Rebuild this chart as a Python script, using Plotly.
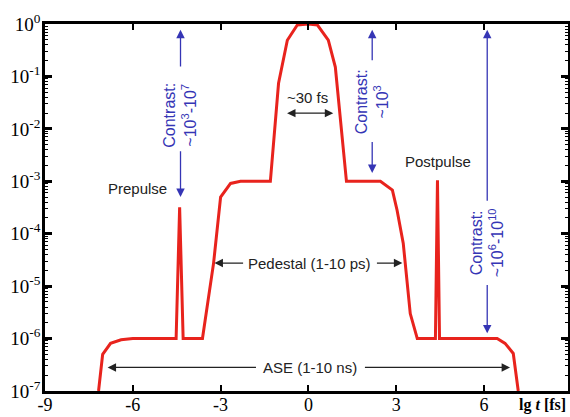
import plotly.graph_objects as go

# ---- data ----
lg_t = [-7.17, -7.03, -6.76, -6.40, -6.00, -4.52, -4.40, -4.28, -3.62, -3.24, -3.00, -2.66,
        -2.32, -1.30, -1.02, -0.72, -0.38, 0.00, 0.31, 0.68, 0.92, 1.30, 2.46, 2.87, 3.03,
        3.24, 3.48, 3.72, 4.34, 4.41, 4.48, 6.45, 6.72, 7.00, 7.17]
intensity = [1e-7, 5.0e-7, 8.1e-7, 9.5e-7, 1e-6, 1e-6, 3.2e-4, 1e-6, 1e-6, 2.75e-5, 5.0e-4, 9.1e-4,
             1e-3, 1e-3, 0.074, 0.49, 0.955, 1.0, 0.955, 0.49, 0.151, 1e-3, 1e-3, 6.8e-4, 2.8e-4,
             6.6e-5, 3.0e-6, 1e-6, 1e-6, 1.05e-3, 1e-6, 1e-6, 8.1e-7, 5.2e-7, 1e-7]

x_tickvals = [-9, -6, -3, 0, 3, 6]
x_ticktext = ["-9", "-6", "-3", "0", "3", "6"]
y_tickvals = [1, 1e-1, 1e-2, 1e-3, 1e-4, 1e-5, 1e-6, 1e-7]
y_ticktext = ["10<sup>0</sup>", "10<sup>-1</sup>", "10<sup>-2</sup>", "10<sup>-3</sup>",
              "10<sup>-4</sup>", "10<sup>-5</sup>", "10<sup>-6</sup>", "10<sup>-7</sup>"]

RED = "#e8231d"
BLUE = "#3535b5"
DARK = "#222222"
SANS = "Liberation Sans, Arial, sans-serif"
SERIF = "Liberation Serif, Times New Roman, serif"

fig = go.Figure()
fig.add_trace(go.Scatter(x=lg_t, y=intensity, mode="lines",
                         line=dict(color=RED, width=3), showlegend=False))


def arrow(x0, y0, x1, y1, color, width=1.3, both=False):
    # arrow from (x0,y0) tail to (x1,y1) head, y in log10 units
    fig.add_annotation(x=x1, y=y1, ax=x0, ay=y0, xref="x", yref="y", axref="x", ayref="y",
                       text="", showarrow=True, arrowhead=2, arrowsize=1.3, arrowwidth=width,
                       arrowcolor=color, arrowside="end+start" if both else "end",
                       startarrowhead=2, startarrowsize=1.3)


def label(x, y, text, color=DARK, angle=0, size=15):
    fig.add_annotation(x=x, y=y, xref="x", yref="y", text=text, showarrow=False,
                       textangle=angle, font=dict(family=SANS, size=size, color=color))


# black labels/arrows
label(-5.84, -3.13, "Prepulse")
label(4.44, -2.63, "Postpulse")
label(-0.03, -1.41, "~30 fs")
arrow(-0.78, -1.70, 0.85, -1.70, DARK, both=True)
label(0.03, -4.56, "Pedestal (1-10 ps)")
arrow(-2.18, -4.56, -3.21, -4.56, DARK)
arrow(2.29, -4.56, 3.21, -4.56, DARK)
label(0.07, -6.55, "ASE (1-10 ns)")
arrow(-1.74, -6.55, -6.86, -6.55, DARK)
arrow(1.88, -6.55, 6.89, -6.55, DARK)

# blue contrast arrows
label(-4.37, -1.74, "Contrast:<br>~10<sup>3</sup>-10<sup>7</sup>", BLUE, -90, 16)
arrow(-4.37, -0.84, -4.37, -0.11, BLUE)
arrow(-4.37, -2.40, -4.37, -3.30, BLUE)

label(2.18, -1.49, "Contrast:<br>~10<sup>3</sup>", BLUE, -90, 16)
arrow(2.18, -0.72, 2.18, -0.11, BLUE)
arrow(2.18, -2.22, 2.18, -2.84, BLUE)

label(6.11, -4.18, "Contrast:<br>~10<sup>6</sup>-10<sup>10</sup>", BLUE, -90, 16)
arrow(6.11, -3.40, 6.11, -0.11, BLUE)
arrow(6.11, -4.95, 6.11, -5.90, BLUE)

# axis title
fig.add_annotation(x=1.0, y=-0.038, xref="paper", yref="paper", showarrow=False,
                   xanchor="right", yanchor="middle",
                   text="<b>lg <i>t</i> [fs]</b>", font=dict(family=SERIF, size=16, color="black"))

fig.update_xaxes(range=[-9, 8.87], tickmode="array", tickvals=x_tickvals, ticktext=x_ticktext,
                 ticks="inside", ticklen=6, tickwidth=2, tickcolor="black",
                 showline=True, linecolor="black", linewidth=2.5, mirror="allticks",
                 showgrid=False, zeroline=False, automargin=False, ticklabelstandoff=-4,
                 tickfont=dict(family=SERIF, size=18, color="black"))
fig.update_yaxes(type="log", range=[-7, 0], tickmode="array", tickvals=y_tickvals, ticktext=y_ticktext,
                 ticks="inside", ticklen=7, tickwidth=2.5, tickcolor="black",
                 minor=dict(ticks="inside", ticklen=3, tickwidth=1.2, dtick="D1", tickcolor="black", showgrid=False),
                 showline=True, linecolor="black", linewidth=2.5, mirror="allticks",
                 showgrid=False, zeroline=False, automargin=False, ticklabelstandoff=-2,
                 tickfont=dict(family=SERIF, size=19, color="black"))

fig.update_layout(width=570, height=417, margin=dict(l=45, r=2, t=24, b=26),
                  paper_bgcolor="white", plot_bgcolor="white")

fig.write_html("out.html", config={"displayModeBar": False},
               post_script="document.body.style.margin='0';document.body.style.overflow='hidden';")
